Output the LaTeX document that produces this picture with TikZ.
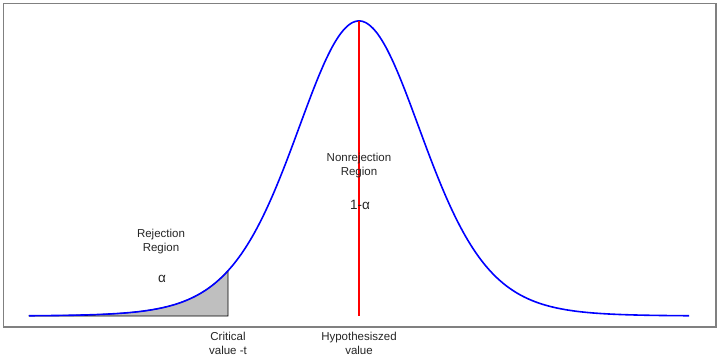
\documentclass[tikz,border=0pt]{standalone}
\usepackage{fontspec}
\setmainfont{Liberation Sans}
\begin{document}
\begin{tikzpicture}[x=1pt,y=-1pt,
  lbl/.style={font=\fontsize{11.5}{14}\selectfont, align=center, inner sep=0pt, text=black!85},
  greek/.style={font=\fontsize{13.5}{15}\selectfont, inner sep=0pt, text=black!85},
  framebox/.style={draw=black!50, line width=1.3pt},
  curve/.style={blue, line width=1.6pt},
  tailfill/.style={fill=black!25, draw=black, line width=0.8pt},
  hypline/.style={red, line width=1.3pt}]
\useasboundingbox (0,0) rectangle (720,359);
\fill[white] (0,0) rectangle (720,359);
\draw[framebox] (3.5,3.5) rectangle (716,327);
\coordinate (crit) at (228,316);
\coordinate (left) at (29,316);
\fill[tailfill] plot[domain=29:228, samples=120] (\x,{316-295*(1+((\x-359)/65)^2/10)^(-5.5)}) -- (crit) -- (left) -- cycle;
\draw[curve] plot[domain=29:689, samples=300, smooth] (\x,{316-295*(1+((\x-359)/65)^2/10)^(-5.5)});
\coordinate (peak) at (359,21);
\coordinate (base) at (359,316);
\draw[hypline] (peak) -- (base);
\node[lbl] (rej) at (161,242) {Rejection\\Region};
\node[greek] (alpha) at (162,279) {α};
\node[lbl] (nonrej) at (359,166) {Nonrejection\\Region};
\node[greek] (onealpha) at (360,205) {1-α};
\node[lbl] (critlbl) at (228,343) {Critical\\value -t};
\node[lbl] (hyplbl) at (359,343) {Hypothesiszed\\value};
\end{tikzpicture}
\end{document}
